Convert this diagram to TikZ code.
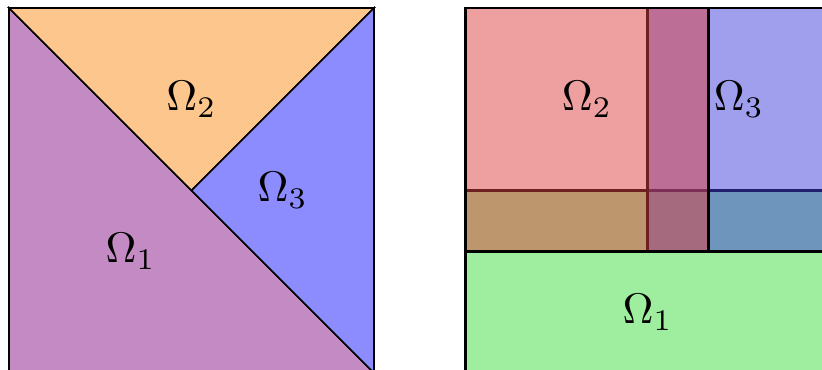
\documentclass[tikz,border=0pt]{standalone}
\usetikzlibrary{calc}
\definecolor{tri1}{HTML}{C48AC4}
\definecolor{tri2}{HTML}{FDC68C}
\definecolor{tri3}{HTML}{8C8CFF}
\definecolor{boxred}{RGB}{221,63,63}
\definecolor{boxblue}{RGB}{63,63,221}
\definecolor{boxgreen}{RGB}{63,221,63}
\tikzset{box/.style={draw=black,semithick,fill opacity=0.5}}

\begin{document}
\begin{tikzpicture}
 \useasboundingbox (-0.074,0.025) rectangle (6.682,3.066);
 % nonoverlapping triangles
 \filldraw[fill=tri1] (0,3) -- (0,0) -- (3,0) -- cycle;
 \filldraw[fill=tri2] (0,3) -- (3,3) -- (1.5,1.5) -- cycle;
 \filldraw[fill=tri3] (3,3) -- (3,0) -- (1.5,1.5) -- cycle;
 \node (t1) at (1,1) {$\Omega_1$};
 \node (t2) at (1.5,2.25) {$\Omega_2$};
 \node (t3) at (2.25,1.5) {$\Omega_3$};
 % overlapping boxes
 \filldraw[box,fill=boxgreen] (3.75,0) rectangle (6.75,1.5);
 \filldraw[box,fill=boxblue] (5.25,1) rectangle (6.75,3);
 \filldraw[box,fill=boxred] (3.75,1) rectangle (5.75,3);
 \node (b1) at (5.25,0.5) {$\Omega_1$};
 \node (b2) at (4.75,2.25) {$\Omega_2$};
 \node (b3) at (6,2.25) {$\Omega_3$};
\end{tikzpicture}
\end{document}
